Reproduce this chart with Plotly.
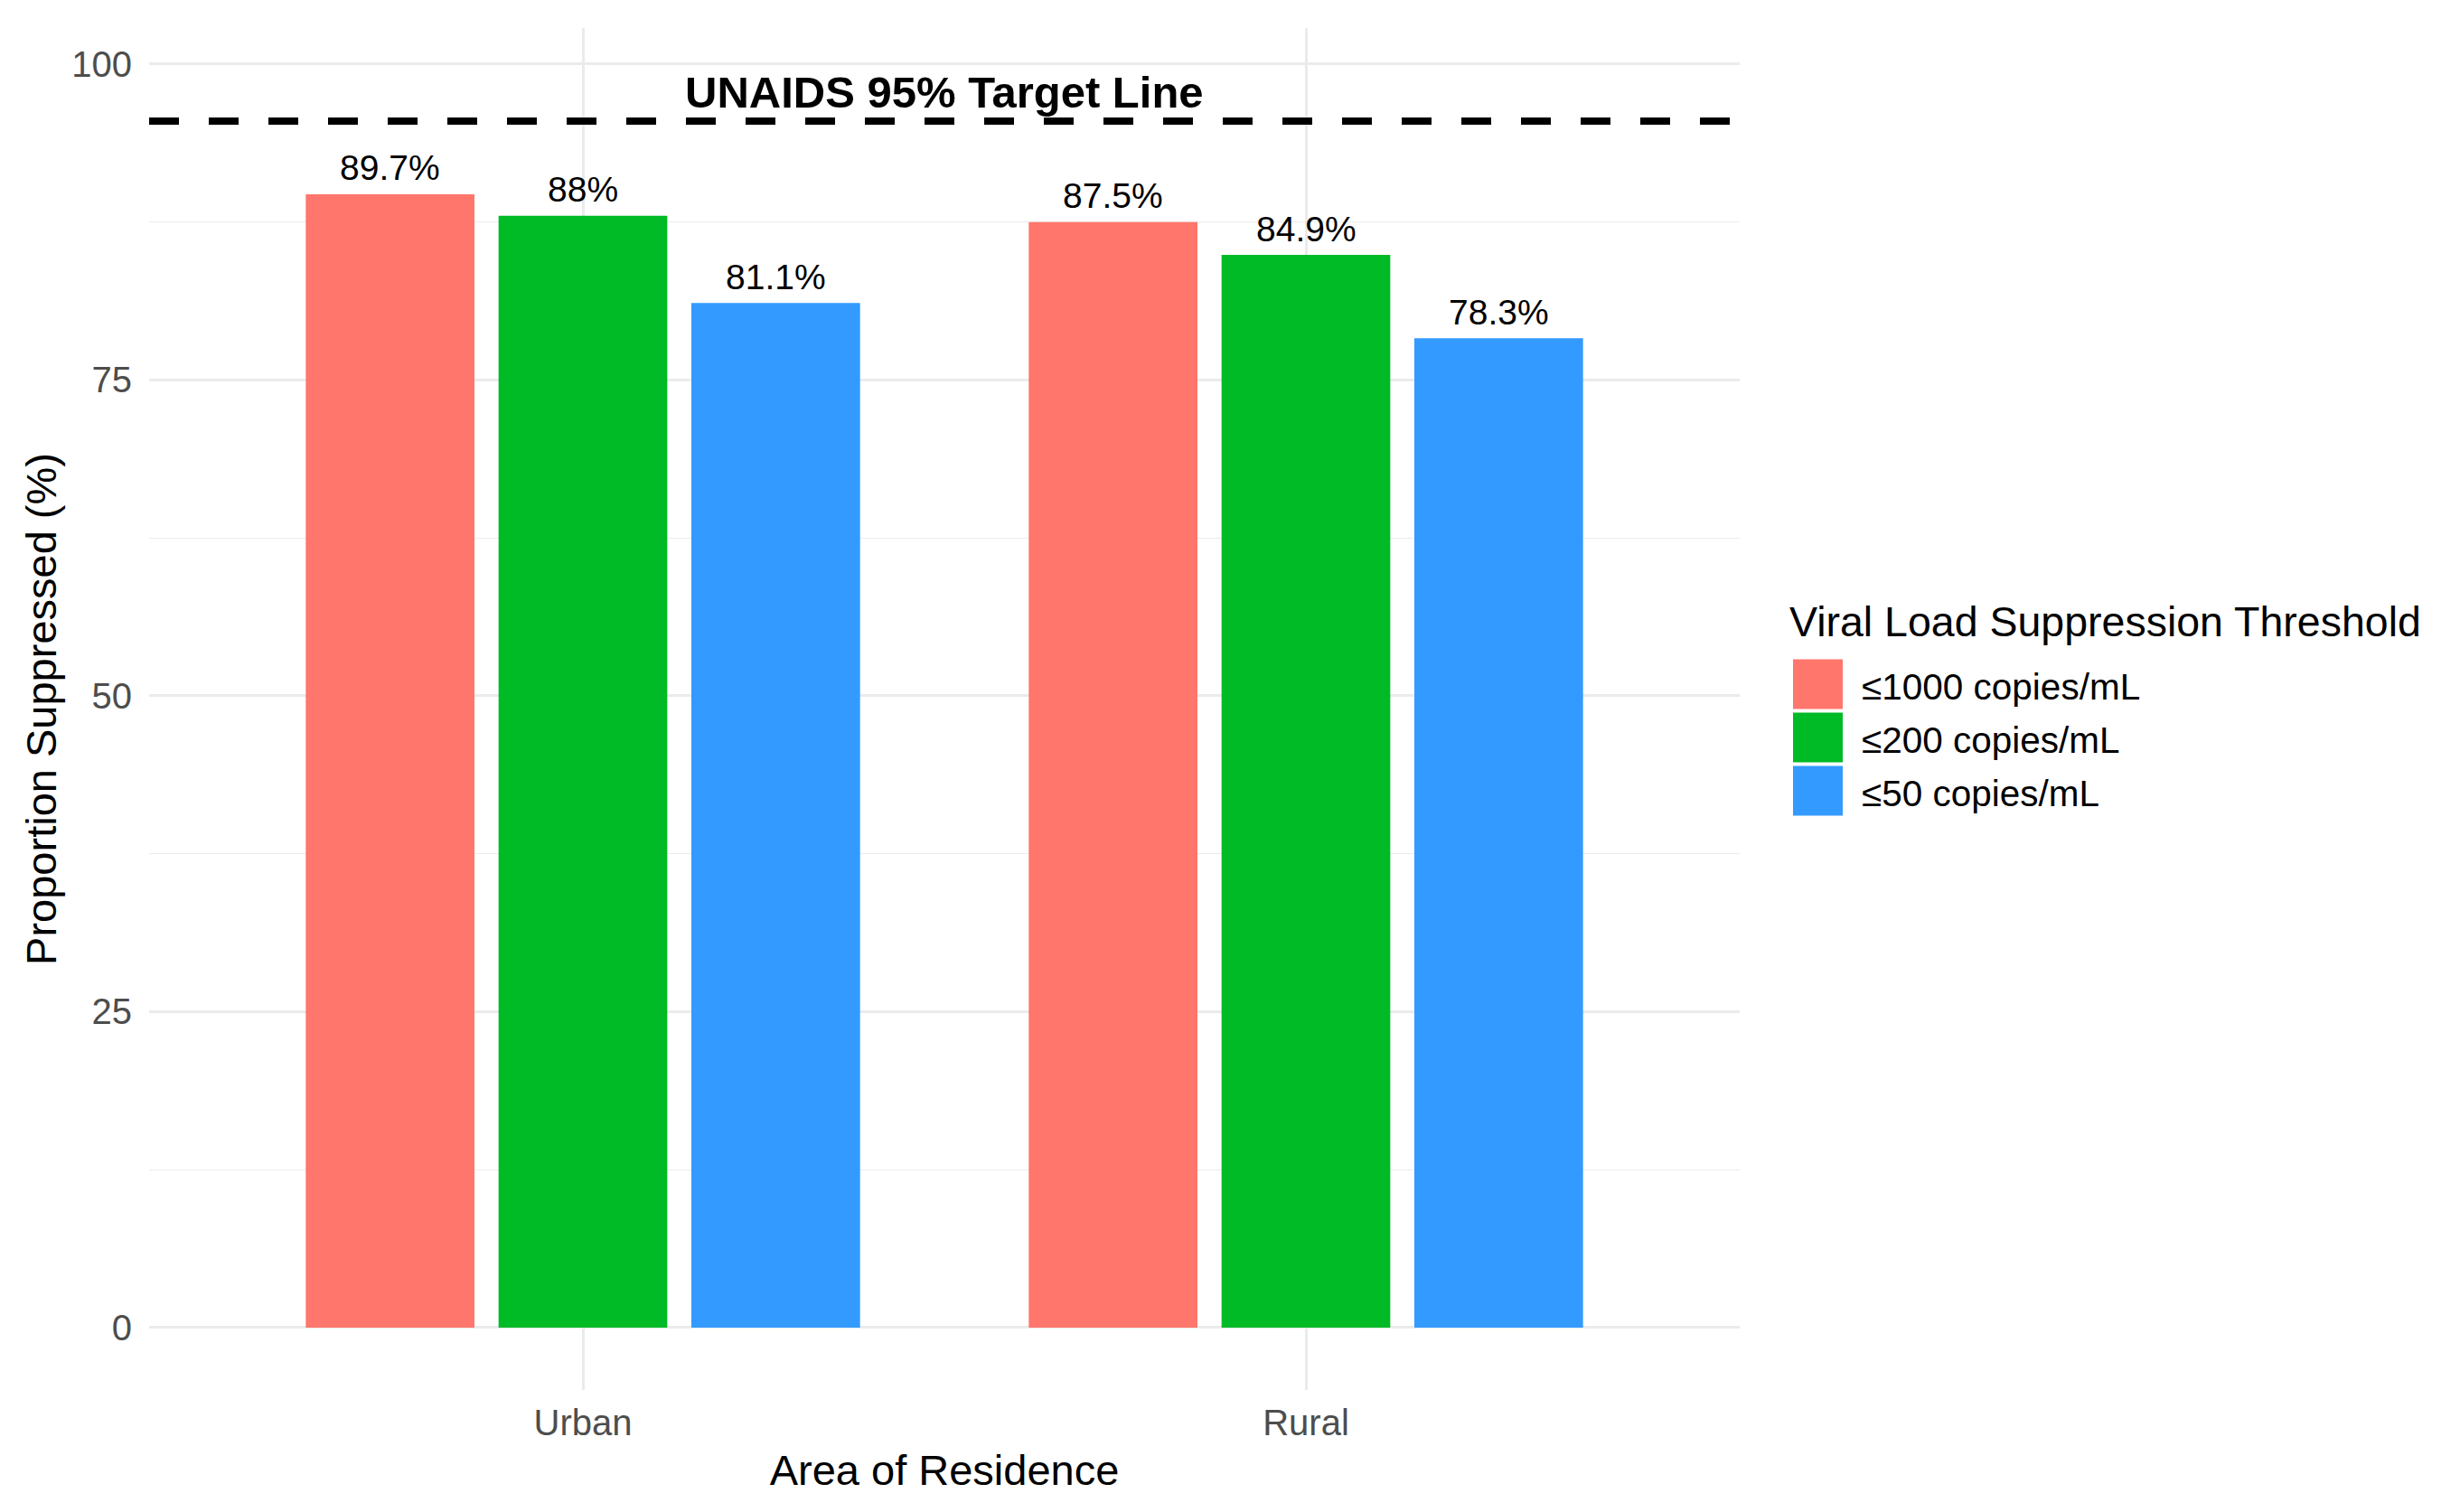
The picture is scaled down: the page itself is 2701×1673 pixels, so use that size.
import plotly.graph_objects as go

# ---- data ----
areas = ["Urban", "Rural"]
thresholds = ["≤1000 copies/mL", "≤200 copies/mL", "≤50 copies/mL"]
suppressed_1000 = [89.7, 87.5]
suppressed_200 = [88.0, 84.9]
suppressed_50 = [81.1, 78.3]
target_y = 95.5
target_label = "UNAIDS 95% Target Line"
target_label_y = 97.8
y_ticks = [0, 25, 50, 75, 100]

colors = ["#FF766C", "#00BA26", "#339AFF"]
series = [suppressed_1000, suppressed_200, suppressed_50]

FONT = "Liberation Sans, Arial, sans-serif"
W, H = 2701, 1673
L, R, T, B = 165, 776, 31, 135
PW, PH = W - L - R, H - T - B
X_RANGE = [-0.6, 1.6]
BARGAP, BARGROUPGAP = 0.2, 0.125


def px_x(px):
    return (px - L) / PW


def px_y(py):
    return (H - B - py) / PH


px_per_cat = PW / (X_RANGE[1] - X_RANGE[0])
slot_px = px_per_cat * (1 - BARGAP) / len(series)

fig = go.Figure()
for i, (name, vals, col) in enumerate(zip(thresholds, series, colors)):
    fig.add_trace(go.Bar(
        x=areas, y=vals, name=name,
        marker=dict(color=col, line=dict(width=0)),
        showlegend=False,
    ))
    for a, v in zip(areas, vals):
        fig.add_annotation(
            x=a, xref="x", y=v, yref="y", text="%g%%" % v, showarrow=False,
            xanchor="center", yanchor="bottom",
            xshift=(i - (len(series) - 1) / 2) * slot_px, yshift=5.5,
            font=dict(family=FONT, size=39, color="black"),
        )

# target line
fig.add_shape(type="line", xref="paper", x0=0, x1=1, yref="y", y0=target_y, y1=target_y,
              line=dict(color="black", width=8, dash="33px,33px"), layer="above")
fig.add_annotation(x=0.5, xref="paper", y=target_label_y, yref="y", text="<b>%s</b>" % target_label,
                   showarrow=False, font=dict(family=FONT, size=49, color="black"),
                   xanchor="center", yanchor="middle")

# manual legend (ggplot-style large keys)
fig.add_annotation(x=px_x(1978), xref="paper", y=px_y(688), yref="paper",
                   text="Viral Load Suppression Threshold", showarrow=False,
                   font=dict(family=FONT, size=46.5, color="black"),
                   xanchor="left", yanchor="middle")
key = 55
centers = [757, 816, 875]
for name, col, cy in zip(thresholds, colors, centers):
    fig.add_shape(type="rect", xref="paper", yref="paper",
                  x0=px_x(1984), x1=px_x(1984 + key),
                  y0=px_y(cy + key / 2), y1=px_y(cy - key / 2),
                  fillcolor=col, line=dict(width=0))
    fig.add_annotation(x=px_x(2058), xref="paper", y=px_y(cy + 3), yref="paper",
                       text=name, showarrow=False,
                       font=dict(family=FONT, size=40.5, color="black"),
                       xanchor="left", yanchor="middle")

grid = "#EBEBEB"
fig.update_layout(
    width=W, height=H,
    margin=dict(l=L, r=R, t=T, b=B, autoexpand=False),
    paper_bgcolor="white", plot_bgcolor="white",
    barmode="group", bargap=BARGAP, bargroupgap=BARGROUPGAP,
    font=dict(family=FONT),
    hovermode=False,
    xaxis=dict(
        type="category", range=X_RANGE,
        showgrid=True, gridcolor=grid, gridwidth=2.7,
        showline=False, zeroline=False, ticks="",
        tickfont=dict(family=FONT, size=40, color="#4D4D4D"),
        ticklabelstandoff=9,
        title=dict(text="Area of Residence", font=dict(family=FONT, size=47, color="black"), standoff=15),
        automargin=False,
    ),
    yaxis=dict(
        range=[-4.94, 102.86],
        tickvals=y_ticks, ticktext=[str(v) for v in y_ticks],
        showgrid=True, gridcolor=grid, gridwidth=2.7,
        minor=dict(dtick=12.5, tick0=0, showgrid=True, gridcolor=grid, gridwidth=1.3),
        showline=False, zeroline=False, ticks="",
        tickfont=dict(family=FONT, size=40, color="#4D4D4D"),
        ticklabelstandoff=18,
        title=dict(text="Proportion Suppressed (%)", font=dict(family=FONT, size=47, color="black"), standoff=1),
        automargin=False,
    ),
)

fig.write_html("out.html", config={"displayModeBar": False},
               post_script="document.body.style.margin='0px';")
